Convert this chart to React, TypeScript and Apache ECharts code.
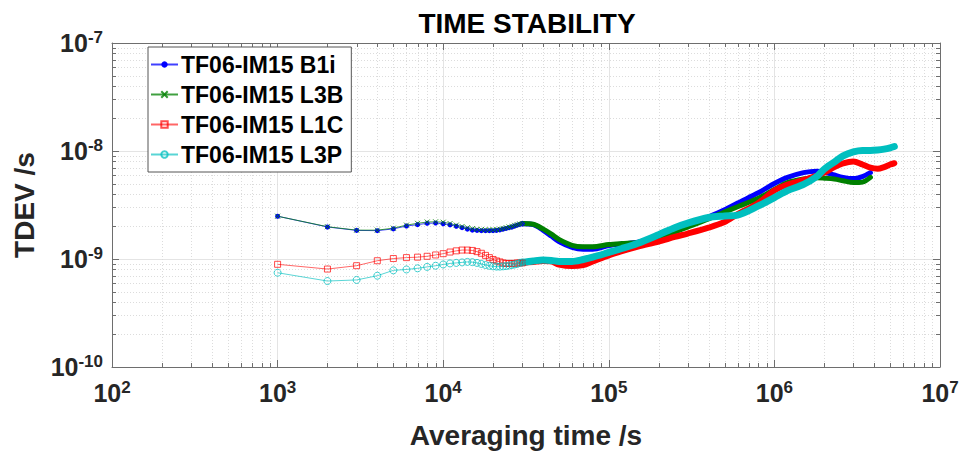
import React, { useEffect, useRef } from "react";
import * as echarts from "echarts";

// ---------- data (values in seconds) ----------
const seriesNames = ["TF06-IM15 B1i", "TF06-IM15 L3B", "TF06-IM15 L1C", "TF06-IM15 L3P"];

// sparse part: averaging times where the individual markers are visible
const tauSparse = [1000, 2000, 3000, 4000, 5000, 6000, 7000, 8000, 9000, 10000,
  11000, 12000, 13000, 14000, 15000, 16000, 17000, 18000, 19000, 20000,
  21000, 22000, 23000, 24000, 25000, 26000, 27000, 28000, 29000, 30000];
const b1iSparse = [2.49, 1.98, 1.84, 1.83, 1.90, 2.02, 2.08, 2.14, 2.15, 2.12,
  2.07, 2.01, 1.95, 1.89, 1.85, 1.84, 1.83, 1.83, 1.83, 1.83,
  1.84, 1.86, 1.89, 1.92, 1.95, 1.98, 2.02, 2.06, 2.09, 2.12];
const l3bSparse = [2.49, 1.99, 1.85, 1.85, 1.93, 2.06, 2.14, 2.20, 2.21, 2.19,
  2.13, 2.06, 2.00, 1.95, 1.91, 1.88, 1.87, 1.86, 1.86, 1.86,
  1.87, 1.89, 1.92, 1.95, 1.98, 2.01, 2.05, 2.08, 2.11, 2.13];
const l1cSparse = [0.893, 0.807, 0.867, 0.964, 1.01, 1.03, 1.04, 1.06, 1.09, 1.12,
  1.16, 1.19, 1.21, 1.21, 1.20, 1.17, 1.13, 1.08, 1.03, 0.99,
  0.96, 0.94, 0.92, 0.91, 0.91, 0.91, 0.91, 0.92, 0.92, 0.92];
const l3pSparse = [0.746, 0.625, 0.64, 0.70, 0.785, 0.80, 0.82, 0.845, 0.866, 0.89,
  0.91, 0.92, 0.93, 0.94, 0.935, 0.92, 0.90, 0.88, 0.865, 0.855,
  0.85, 0.85, 0.855, 0.86, 0.87, 0.88, 0.89, 0.90, 0.92, 0.93];

// dense part: markers merge into a thick band
const tauDenseB = [30000, 35000, 40000, 45000, 50000, 60000, 70000, 80000,
  100000, 120000, 150000, 200000, 250000, 300000, 400000, 500000, 600000, 800000,
  1000000, 1200000, 1500000, 1800000, 2000000, 2300000, 2600000, 3000000, 3400000, 3800000];
const b1iDense = [2.12, 2.08, 1.85, 1.63, 1.45, 1.28, 1.23, 1.23,
  1.33, 1.38, 1.43, 1.62, 1.85, 2.05, 2.45, 2.85, 3.3, 4.1,
  5.0, 5.7, 6.3, 6.5, 6.4, 6.0, 5.7, 5.55, 5.8, 6.3];
const l3bDense = [2.13, 2.10, 1.90, 1.70, 1.52, 1.34, 1.30, 1.30,
  1.36, 1.39, 1.42, 1.58, 1.78, 1.98, 2.35, 2.72, 3.05, 3.65,
  4.4, 5.1, 5.5, 5.65, 5.6, 5.5, 5.3, 5.1, 5.15, 5.7];

const tauDenseR = [30000, 35000, 40000, 45000, 50000, 60000, 70000, 80000,
  100000, 120000, 150000, 200000, 250000, 300000, 400000, 500000, 600000, 800000,
  1000000, 1200000, 1500000, 1800000, 2000000, 2300000, 2600000, 3000000, 3400000, 3800000,
  4200000, 4600000, 5000000, 5300000];
const l1cDense = [0.92, 0.94, 0.96, 0.95, 0.89, 0.86, 0.88, 0.95,
  1.08, 1.18, 1.30, 1.45, 1.60, 1.72, 1.95, 2.2, 2.6, 3.3,
  4.3, 4.9, 5.4, 5.9, 6.3, 7.1, 7.7, 8.0, 7.5, 7.0,
  6.85, 7.1, 7.5, 7.7];
const l3pDense = [0.93, 0.96, 0.98, 0.97, 0.95, 0.95, 0.99, 1.04,
  1.15, 1.25, 1.40, 1.68, 1.95, 2.15, 2.42, 2.50, 2.55, 3.1,
  3.7, 4.3, 4.9, 5.8, 6.8, 7.9, 9.0, 9.8, 10.1, 10.1,
  10.2, 10.4, 10.7, 11.0];

const xMajorTicks = [1e2, 1e3, 1e4, 1e5, 1e6, 1e7];
const yMajorTicks = [1e-10, 1e-9, 1e-8, 1e-7];
const minorSteps = [2, 3, 4, 5, 6, 7, 8, 9];

// ---------- helpers ----------
const NANO = 1e-9;
const pair = (t: number[], v: number[]) => t.map((x, i) => [x, v[i] * NANO]);

const xMinor: number[] = [];
xMajorTicks.slice(0, -1).forEach((d) => minorSteps.forEach((k) => xMinor.push(k * d)));
const yMinor: number[] = [];
yMajorTicks.slice(0, -1).forEach((d) => minorSteps.forEach((k) => yMinor.push(k * d)));

const FONT = "'Liberation Sans', Arial, Helvetica, sans-serif";
const AXIS_COLOR = "#6e6e6e";

const expLabel = (v: number) => {
  const e = Math.round(Math.log10(v));
  return `{b|10}{e|${e}}`;
};
const labelRich = {
  b: { fontSize: 25, fontWeight: "bold", fontFamily: FONT, color: "#262626" },
  e: { fontSize: 17, fontWeight: "bold", fontFamily: FONT, color: "#262626", padding: [0, 0, 11, 0] },
};

const xSymbol = "path://M0,0L10,10M10,0L0,10";

export default function App() {
  const ref = useRef<HTMLDivElement>(null);

  useEffect(() => {
    if (!ref.current) return;
    const chart = echarts.init(ref.current, undefined, { renderer: "svg" });

    const minorX = {
      type: "custom",
      name: "minorX",
      z: 1,
      silent: true,
      xAxisIndex: 0,
      yAxisIndex: 0,
      data: xMinor.map((v) => [v, 1e-9]),
      encode: { x: 0, y: 1 },
      renderItem: (params: any, api: any) => {
        const cs = params.coordSys;
        const px = Math.round(api.coord([api.value(0), 1e-9])[0]) + 0.5;
        const top = cs.y;
        const bot = cs.y + cs.height;
        return {
          type: "group",
          children: [
            { type: "line", shape: { x1: px, y1: top, x2: px, y2: bot }, style: { stroke: "#dcdcdc", lineWidth: 1, lineDash: [1, 2] } },
            { type: "line", shape: { x1: px, y1: bot, x2: px, y2: bot - 4 }, style: { stroke: AXIS_COLOR, lineWidth: 1 } },
            { type: "line", shape: { x1: px, y1: top, x2: px, y2: top + 4 }, style: { stroke: AXIS_COLOR, lineWidth: 1 } },
          ],
        };
      },
    };
    const minorY = {
      type: "custom",
      name: "minorY",
      z: 1,
      silent: true,
      xAxisIndex: 0,
      yAxisIndex: 0,
      data: yMinor.map((v) => [1000, v]),
      encode: { x: 0, y: 1 },
      renderItem: (params: any, api: any) => {
        const cs = params.coordSys;
        const py = Math.round(api.coord([1000, api.value(1)])[1]) + 0.5;
        const l = cs.x;
        const r = cs.x + cs.width;
        return {
          type: "group",
          children: [
            { type: "line", shape: { x1: l, y1: py, x2: r, y2: py }, style: { stroke: "#dcdcdc", lineWidth: 1, lineDash: [1, 2] } },
            { type: "line", shape: { x1: l, y1: py, x2: l + 4, y2: py }, style: { stroke: AXIS_COLOR, lineWidth: 1 } },
            { type: "line", shape: { x1: r, y1: py, x2: r - 4, y2: py }, style: { stroke: AXIS_COLOR, lineWidth: 1 } },
          ],
        };
      },
    };

    const sparse = (name: string, data: number[][], color: string, lineColor: string, symbol: string, size: number, filled: boolean) => ({
      type: "line",
      name,
      z: 3,
      data,
      symbol,
      symbolSize: size,
      showSymbol: true,
      showAllSymbol: true,
      lineStyle: { color: lineColor, width: 1 },
      itemStyle: filled
        ? { color, borderColor: color, borderWidth: 0 }
        : { color: "transparent", borderColor: color, borderWidth: 1 },
      emphasis: { disabled: true },
    });
    const dense = (name: string, data: number[][], color: string, width: number) => ({
      type: "line",
      name,
      z: 3,
      data,
      symbol: "none",
      smooth: 0.3,
      lineStyle: { color, width, cap: "round", join: "round" },
      itemStyle: { color },
      emphasis: { disabled: true },
    });

    const option: any = {
      animation: false,
      backgroundColor: "#ffffff",
      title: {
        text: "TIME STABILITY",
        left: 522,
        top: 4,
        textAlign: "center",
        textStyle: { fontSize: 28, fontWeight: "bold", fontFamily: FONT, color: "#000" },
      },
      legend: {
        data: seriesNames,
        orient: "vertical",
        left: 148,
        top: 47,
        itemWidth: 27,
        itemHeight: 8,
        itemGap: 5,
        padding: [5, 8, 5, 2],
        backgroundColor: "#ffffff",
        borderColor: "#555",
        borderWidth: 1,
        borderRadius: 0,
        selectedMode: false,
        textStyle: { fontSize: 23, fontWeight: "bold", fontFamily: FONT, color: "#000", lineHeight: 25, padding: [0, 0, 0, -2] },
      },
      grid: { left: 112, right: 23, top: 43, bottom: 88, containLabel: false },
      xAxis: [
        {
          type: "log",
          logBase: 10,
          min: 1e2,
          max: 1e7,
          name: "Averaging time /s",
          nameLocation: "middle",
          nameGap: 54,
          nameTextStyle: { fontSize: 28, fontWeight: "bold", fontFamily: FONT, color: "#262626" },
          axisLine: { show: true, lineStyle: { color: AXIS_COLOR, width: 1 } },
          axisTick: { show: true, inside: true, length: 7, lineStyle: { color: AXIS_COLOR } },
          axisLabel: { formatter: expLabel, rich: labelRich, margin: 12 },
          splitLine: { show: true, lineStyle: { color: "#e4e4e4", width: 1 } },
          minorTick: { show: false },
        },
        {
          type: "log",
          logBase: 10,
          min: 1e2,
          max: 1e7,
          position: "top",
          axisLine: { show: true, lineStyle: { color: AXIS_COLOR, width: 1 } },
          axisTick: { show: true, inside: true, length: 7, lineStyle: { color: AXIS_COLOR } },
          axisLabel: { show: false },
          splitLine: { show: false },
        },
      ],
      yAxis: [
        {
          type: "log",
          logBase: 10,
          min: 1e-10,
          max: 1e-7,
          name: "TDEV /s",
          nameLocation: "middle",
          nameGap: 74,
          nameRotate: 90,
          nameTextStyle: { fontSize: 28, fontWeight: "bold", fontFamily: FONT, color: "#262626" },
          axisLine: { show: true, lineStyle: { color: AXIS_COLOR, width: 1 } },
          axisTick: { show: true, inside: true, length: 7, lineStyle: { color: AXIS_COLOR } },
          axisLabel: { formatter: expLabel, rich: labelRich, margin: 9 },
          splitLine: { show: true, lineStyle: { color: "#e4e4e4", width: 1 } },
        },
        {
          type: "log",
          logBase: 10,
          min: 1e-10,
          max: 1e-7,
          position: "right",
          axisLine: { show: true, lineStyle: { color: AXIS_COLOR, width: 1 } },
          axisTick: { show: true, inside: true, length: 7, lineStyle: { color: AXIS_COLOR } },
          axisLabel: { show: false },
          splitLine: { show: false },
        },
      ],
      series: [
        minorX,
        minorY,
        dense("B1i dense", pair(tauDenseB, b1iDense), "#0000ff", 5),
        dense("L3B dense", pair(tauDenseB, l3bDense), "#008000", 5),
        dense("L1C dense", pair(tauDenseR, l1cDense), "#ff0000", 6),
        dense("L3P dense", pair(tauDenseR, l3pDense), "#00bfbf", 7),
        sparse(seriesNames[0], pair(tauSparse, b1iSparse), "#0000ff", "rgba(0,0,255,0.75)", "circle", 5, true),
        sparse(seriesNames[1], pair(tauSparse, l3bSparse), "rgba(0,128,0,0.8)", "rgba(0,128,0,0.75)", xSymbol, 5, false),
        sparse(seriesNames[2], pair(tauSparse, l1cSparse), "rgba(255,0,0,0.7)", "rgba(255,0,0,0.6)", "rect", 6, false),
        sparse(seriesNames[3], pair(tauSparse, l3pSparse), "rgba(0,191,191,0.75)", "rgba(0,191,191,0.65)", "circle", 7, false),
      ],
    };

    chart.setOption(option);
    return () => chart.dispose();
  }, []);

  return (
    <div
      ref={ref}
      style={{ position: "fixed", left: 0, top: 0, width: 963, height: 455, background: "#fff" }}
    />
  );
}
